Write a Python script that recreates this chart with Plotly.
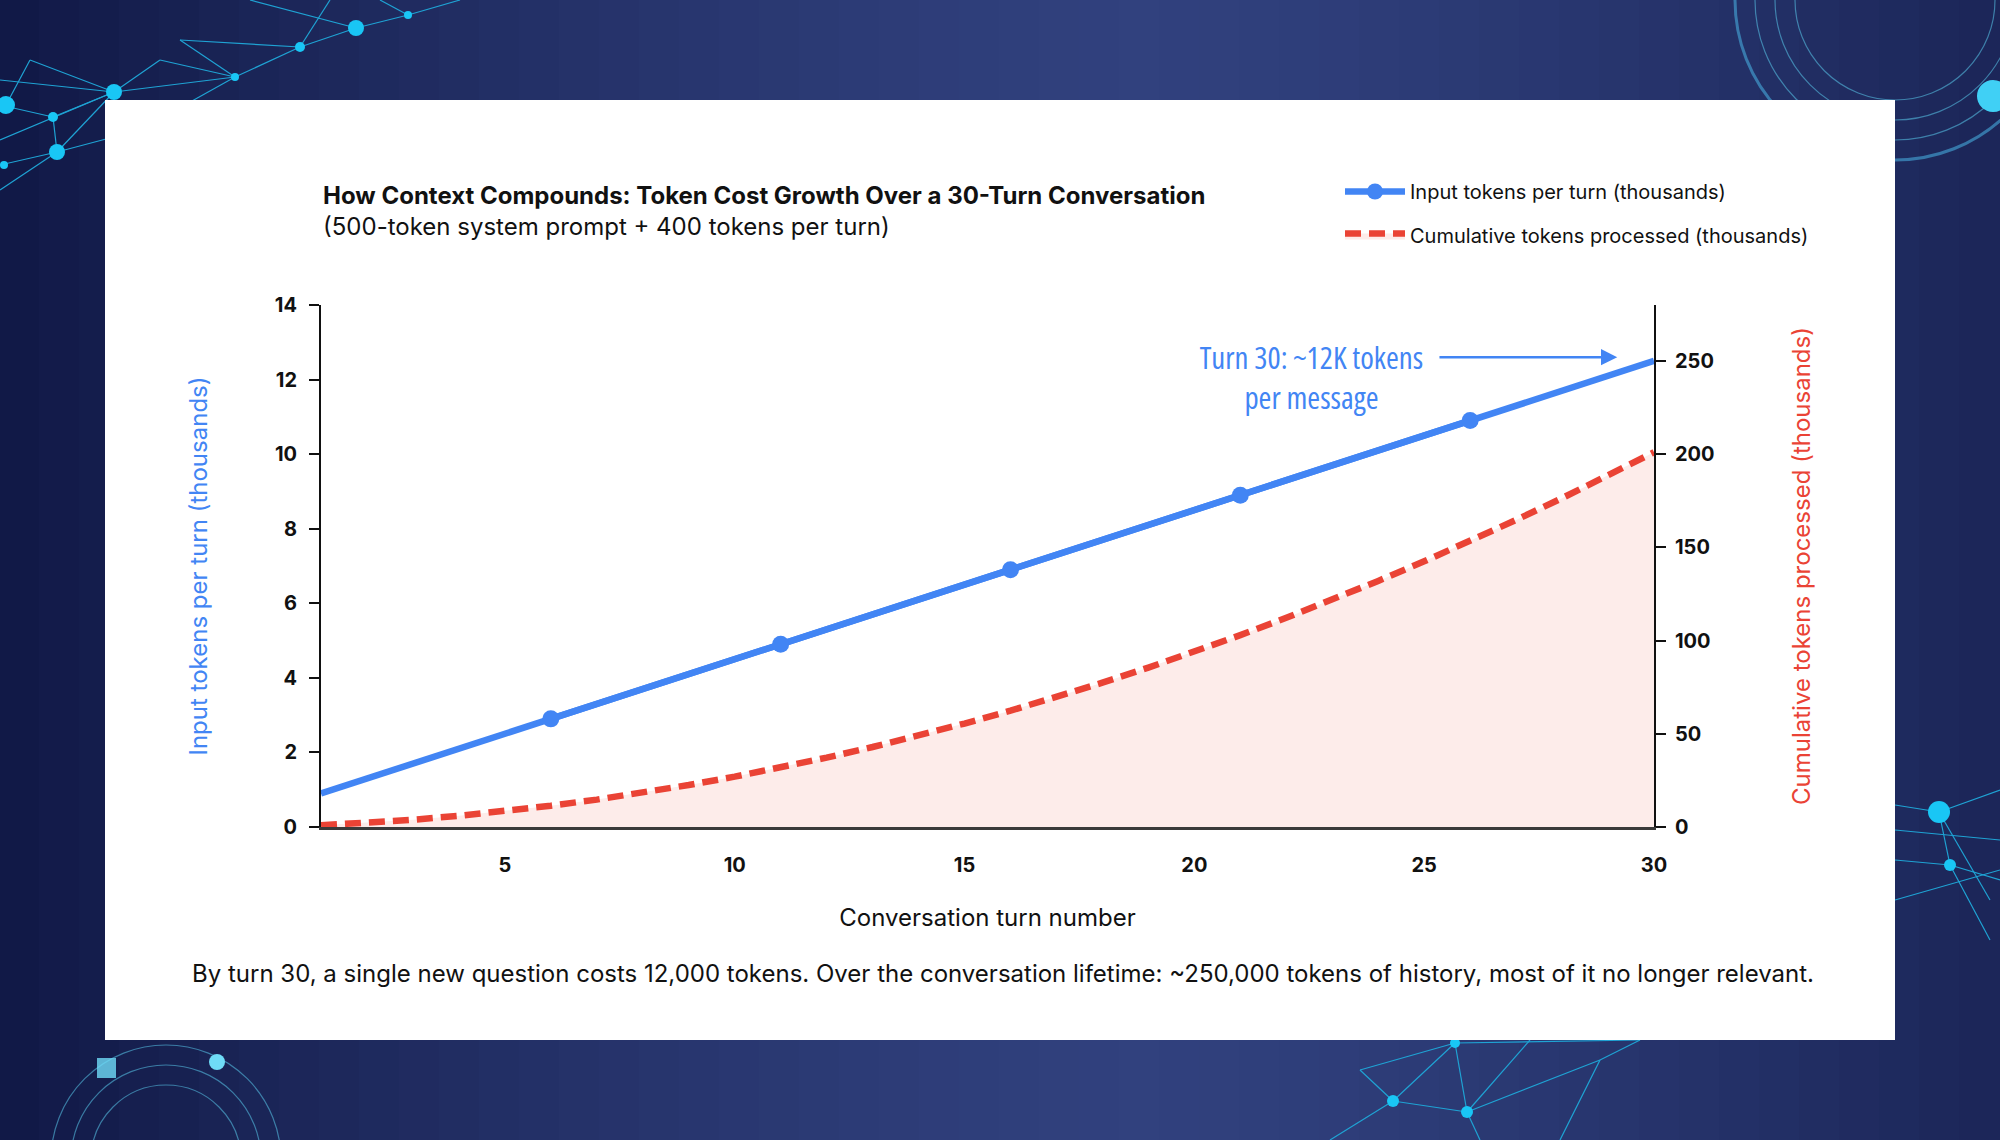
import plotly.graph_objects as go

# ----------------------------
# Data (thousands of tokens)
# ----------------------------
turns = list(range(1, 31))
input_per_turn = [0.9, 1.3, 1.7, 2.1, 2.5, 2.9, 3.3, 3.7, 4.1, 4.5,
                  4.9, 5.3, 5.7, 6.1, 6.5, 6.9, 7.3, 7.7, 8.1, 8.5,
                  8.9, 9.3, 9.7, 10.1, 10.5, 10.9, 11.3, 11.7, 12.1, 12.5]
cumulative = [0.9, 2.2, 3.9, 6.0, 8.5, 11.4, 14.7, 18.4, 22.5, 27.0,
              31.9, 37.2, 42.9, 49.0, 55.5, 62.4, 69.7, 77.4, 85.5, 94.0,
              102.9, 112.2, 121.9, 132.0, 142.5, 153.4, 164.7, 176.4, 188.5, 201.0]
marked_turns = [6, 11, 16, 21, 26]
x_ticks = [5, 10, 15, 20, 25, 30]
y_ticks = [0, 2, 4, 6, 8, 10, 12, 14]
y2_ticks = [0, 50, 100, 150, 200, 250]

BLUE = "#4285F4"
RED = "#EA4335"
FILL = "#FDECEA"
FONT = "Inter, 'Noto Sans', sans-serif"
COND = "'Open Sans', 'Noto Sans', sans-serif"

W, H = 2000, 1140
L, R, T, B = 321, 346, 305, 313
PW, PH = W - L - R, H - T - B


def px(x, y):
    """Pixel position on the page -> paper coordinates of the plot area."""
    return (x - L) / PW, (H - B - y) / PH


def rect(x0, y0, x1, y1, color, layer="below"):
    a, b = px(x0, y1)
    c, d = px(x1, y0)
    return dict(type="rect", xref="paper", yref="paper", x0=a, y0=b, x1=c, y1=d,
                fillcolor=color, line=dict(width=0), layer=layer)


def seg(x0, y0, x1, y1, color="#1fa3d4", width=1.2):
    a, b = px(x0, y0)
    c, d = px(x1, y1)
    return dict(type="line", xref="paper", yref="paper", x0=a, y0=b, x1=c, y1=d,
                line=dict(color=color, width=width), layer="below")


def ring(cx, cy, r, color="#3fb8e0", width=1.5, fill="rgba(0,0,0,0)"):
    a, b = px(cx - r, cy + r)
    c, d = px(cx + r, cy - r)
    return dict(type="circle", xref="paper", yref="paper", x0=a, y0=b, x1=c, y1=d,
                line=dict(color=color, width=width), fillcolor=fill, layer="below")


def dot(cx, cy, r, color="#19c6f5"):
    return ring(cx, cy, r, color=color, width=0, fill=color)


# ----------------------------
# Background: navy gradient + decoration
# ----------------------------
shapes = []
n_strips = 50
for i in range(n_strips):
    t = abs((i + 0.5) / n_strips - 0.57) / 0.57
    t = min(t, 1.0)
    c0, c1 = (49, 65, 126), (17, 25, 70)
    col = tuple(int(c0[k] + (c1[k] - c0[k]) * t ** 1.4) for k in range(3))
    shapes.append(rect(i * W / n_strips - 1, 0, (i + 1) * W / n_strips + 1, H, "rgb(%d,%d,%d)" % col))

# top-left mesh
mesh_tl = [(0, 105, 53, 117), (53, 117, 57, 152), (57, 152, 0, 165), (53, 117, 114, 92),
           (114, 92, 235, 77), (235, 77, 300, 47), (300, 47, 356, 28), (356, 28, 408, 15),
           (408, 15, 460, 0), (114, 92, 57, 152), (0, 140, 114, 92), (57, 152, 140, 130),
           (140, 130, 235, 77), (235, 77, 180, 40), (180, 40, 300, 47), (300, 47, 330, 0),
           (356, 28, 250, 0), (0, 80, 114, 92), (114, 92, 160, 60), (160, 60, 235, 77),
           (0, 190, 57, 152), (6, 105, 30, 60), (30, 60, 114, 92), (408, 15, 380, 0)]
for s in mesh_tl:
    shapes.append(seg(*s))
for d in [(6, 105, 9), (53, 117, 5), (57, 152, 8), (114, 92, 8), (235, 77, 4),
          (300, 47, 5), (356, 28, 8), (408, 15, 4), (4, 165, 4)]:
    shapes.append(dot(*d))

# top-right rings
for r in [100, 120, 140]:
    shapes.append(ring(1895, 0, r, color="rgba(90,200,235,0.55)", width=1.2))
shapes.append(ring(1895, 0, 160, color="rgba(70,170,220,0.6)", width=3))
shapes.append(dot(1993, 96, 16, color="#40d0f5"))

# right-middle mesh
mesh_r = [(1895, 805, 1939, 812), (1939, 812, 2000, 790), (1939, 812, 1950, 865),
          (1950, 865, 2000, 880), (1895, 860, 1950, 865), (1939, 812, 1990, 900),
          (1895, 900, 2000, 870), (1950, 865, 1990, 940), (1895, 830, 2000, 840)]
for s in mesh_r:
    shapes.append(seg(*s))
shapes.append(dot(1939, 812, 11))
shapes.append(dot(1950, 865, 6))

# bottom mesh
mesh_b = [(1455, 1043, 1393, 1101), (1393, 1101, 1467, 1112), (1467, 1112, 1600, 1060),
          (1455, 1043, 1640, 1040), (1393, 1101, 1330, 1140), (1467, 1112, 1480, 1140),
          (1455, 1043, 1467, 1112), (1393, 1101, 1360, 1070), (1360, 1070, 1455, 1043),
          (1600, 1060, 1560, 1140), (1467, 1112, 1530, 1040), (1640, 1040, 1600, 1060)]
for s in mesh_b:
    shapes.append(seg(*s))
for d in [(1393, 1101, 6), (1467, 1112, 6), (1455, 1043, 5)]:
    shapes.append(dot(*d))

# bottom-left rings
for r in [75, 95, 115]:
    shapes.append(ring(166, 1160, r, color="rgba(90,200,235,0.55)", width=1.2))
shapes.append(dot(217, 1062, 8, color="#6fdcf7"))
shapes.append(rect(97, 1058, 116, 1078, "rgba(111,220,247,0.8)"))

# white card
shapes.append(rect(105, 100, 1895, 1040, "#FFFFFF"))

# ----------------------------
# Traces
# ----------------------------
fig = go.Figure()

fig.add_trace(go.Scatter(
    x=turns, y=cumulative, yaxis="y2",
    mode="lines",
    name="Cumulative tokens processed (thousands)",
    line=dict(color=RED, width=6.5, dash="16px,8px"),
    fill="tozeroy", fillcolor=FILL,
    legendgroup="b", legendrank=2,
))

# full blue line
fig.add_trace(go.Scatter(
    x=turns, y=input_per_turn,
    mode="lines",
    line=dict(color=BLUE, width=6.5),
    showlegend=False, legendgroup="a", legendrank=1,
))

# every 5th turn gets a marker (this trace carries the legend entry)
mark_y = [input_per_turn[turns.index(t)] for t in marked_turns]
fig.add_trace(go.Scatter(
    x=marked_turns, y=mark_y,
    mode="lines+markers",
    name="Input tokens per turn (thousands)",
    line=dict(color=BLUE, width=6.5),
    marker=dict(color=BLUE, size=17),
    legendgroup="a", legendrank=1,
))

# ----------------------------
# Annotations
# ----------------------------
ann = []
tx, ty = px(321, 195)
ann.append(dict(xref="paper", yref="paper", x=tx, y=ty, xanchor="left", yanchor="middle",
                text="<b>How Context Compounds: Token Cost Growth Over a 30-Turn Conversation</b>",
                showarrow=False, font=dict(family=FONT, size=24, color="#111111")))
tx, ty = px(321, 226)
ann.append(dict(xref="paper", yref="paper", x=tx, y=ty, xanchor="left", yanchor="middle",
                text="(500-token system prompt + 400 tokens per turn)",
                showarrow=False, font=dict(family=FONT, size=24, color="#111111")))
tx, ty = px(1003, 973)
ann.append(dict(xref="paper", yref="paper", x=tx, y=ty, xanchor="center", yanchor="middle",
                text="By turn 30, a single new question costs 12,000 tokens. Over the conversation "
                     "lifetime: ~250,000 tokens of history, most of it no longer relevant.",
                showarrow=False, font=dict(family=FONT, size=24, color="#111111")))
# callout
ann.append(dict(xref="x", yref="y", x=22.55, y=12.07, xanchor="center", yanchor="middle",
                text="Turn 30: ~12K tokens<br>per message", showarrow=False, name="callout",
                font=dict(family=COND, size=31, color=BLUE, weight=500)))
ann.append(dict(xref="x", yref="y", x=29.2, y=12.6, ax=25.3, ay=12.6, axref="x", ayref="y",
                text="", showarrow=True, arrowhead=2, arrowsize=1.3, arrowwidth=2.5,
                arrowcolor=BLUE, standoff=0))

lx, ly = px(1340, 172)

fig.update_layout(
    width=W, height=H,
    margin=dict(l=L, r=R, t=T, b=B, autoexpand=False),
    paper_bgcolor="#1b2558",
    plot_bgcolor="rgba(0,0,0,0)",
    font=dict(family=FONT, color="#111111"),
    shapes=shapes,
    annotations=ann,
    showlegend=True,
    legend=dict(x=lx, y=ly, xanchor="left", yanchor="top", bgcolor="rgba(0,0,0,0)",
                font=dict(family=FONT, size=20, color="#111111"),
                traceorder="grouped", tracegroupgap=15, itemwidth=60),
    xaxis=dict(
        range=[1, 30], tickvals=x_ticks, showgrid=False, zeroline=False,
        showline=True, linecolor="#3a3a3a", linewidth=3,
        ticks="outside", ticklen=18, tickcolor="rgba(0,0,0,0)",
        tickfont=dict(family=FONT, size=20, weight="bold", color="#111111"),
        title=dict(text="Conversation turn number", standoff=34,
                   font=dict(family=FONT, size=24, color="#111111")),
    ),
    yaxis=dict(
        range=[0, 14], tickvals=y_ticks, showgrid=False, zeroline=False,
        showline=True, linecolor="#111111", linewidth=2,
        ticks="outside", ticklen=10, tickwidth=2, tickcolor="#111111",
        ticklabelstandoff=8,
        tickfont=dict(family=FONT, size=20, weight="bold", color="#111111"),
        title=dict(text="Input tokens per turn (thousands)", standoff=60,
                   font=dict(family=FONT, size=24, color=BLUE)),
    ),
    yaxis2=dict(
        range=[0, 280], tickvals=y2_ticks, overlaying="y", side="right",
        showgrid=False, zeroline=False,
        showline=True, linecolor="#111111", linewidth=2,
        ticks="outside", ticklen=10, tickwidth=2, tickcolor="#111111",
        ticklabelstandoff=5,
        tickfont=dict(family=FONT, size=20, weight="bold", color="#111111"),
        title=dict(text="Cumulative tokens processed (thousands)", standoff=80,
                   font=dict(family=FONT, size=24, color=RED)),
    ),
)

post = """
document.body.style.margin='0';
document.body.style.overflow='hidden';
document.querySelectorAll('.annotation-text').forEach(function(el){
  if (el.textContent.indexOf('Turn 30') === 0) { el.style.fontStretch = '75%'; }
});
"""
fig.write_html("out.html", post_script=post, config={"displayModeBar": False})
